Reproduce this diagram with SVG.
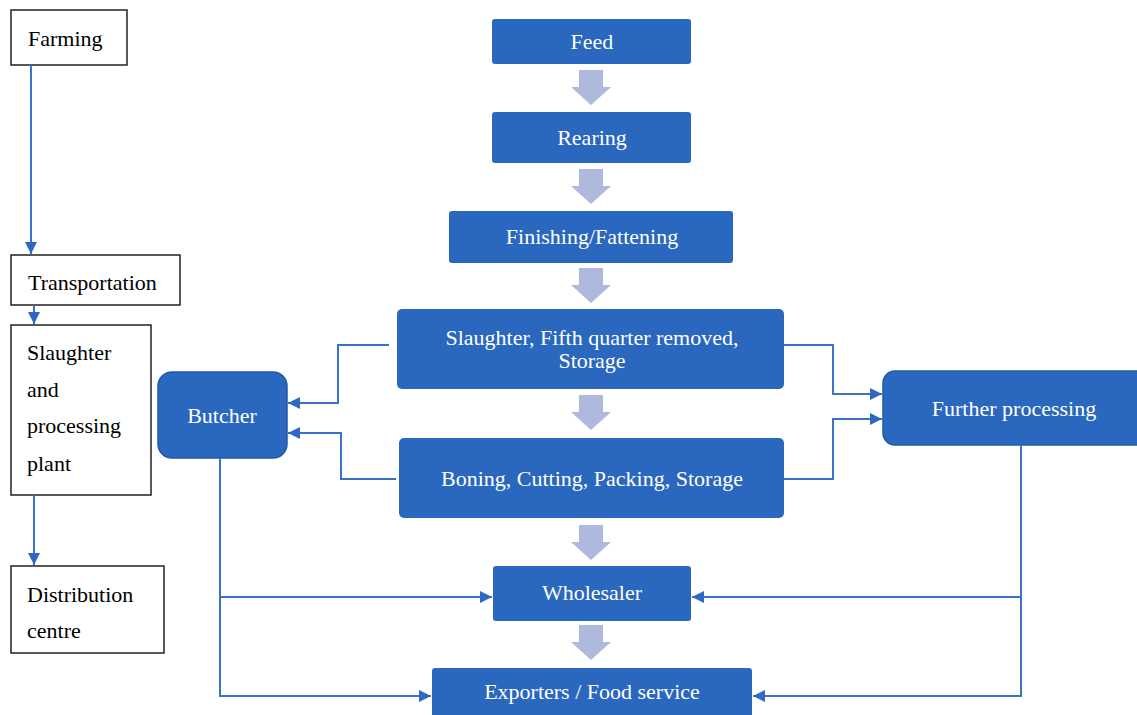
<svg xmlns="http://www.w3.org/2000/svg" width="1137" height="715" viewBox="0 0 1137 715">
<defs>
<style>
.wbox{fill:#ffffff;stroke:#222222;stroke-width:1.5}
.bbox{fill:#2A67BE}
.rbox{fill:#2A67BE;stroke:#1F5AAE;stroke-width:1.5}
.blk{font-family:"Liberation Serif","Times New Roman",serif;font-size:22px;fill:#000000}
.wht{font-family:"Liberation Serif","Times New Roman",serif;font-size:22px;fill:#ffffff;text-anchor:middle}
.con{fill:none;stroke:#3A72C8;stroke-width:2}
.big{fill:#AFB9DE}
</style>
<marker id="ah" viewBox="0 0 10 10" refX="10" refY="5" markerWidth="6" markerHeight="6" markerUnits="strokeWidth" orient="auto">
<path d="M0,0 L10,5 L0,10 Z" fill="#2E68C2"/>
</marker>
<path id="bigarrow" d="M-12,0 H12 V17 H20 L0,35 L-20,17 H-12 Z"/>
</defs>

<g id="farming"><rect class="wbox" x="11" y="10" width="116" height="55"/><text class="blk" x="28" y="46">Farming</text></g>
<g id="transportation"><rect class="wbox" x="11" y="255" width="169" height="50"/><text class="blk" x="28" y="290">Transportation</text></g>
<g id="slaughter-plant"><rect class="wbox" x="11" y="325" width="140" height="170"/>
<text class="blk" x="27" y="360">Slaughter</text><text class="blk" x="27" y="397">and</text><text class="blk" x="27" y="433">processing</text><text class="blk" x="27" y="471">plant</text></g>
<g id="distribution"><rect class="wbox" x="11" y="566" width="153" height="87"/>
<text class="blk" x="27" y="602">Distribution</text><text class="blk" x="27" y="638">centre</text></g>

<g id="feed"><rect class="bbox" x="492" y="19" width="199" height="45" rx="3"/><text class="wht" x="592" y="49">Feed</text></g>
<g id="rearing"><rect class="bbox" x="492" y="112" width="199" height="51" rx="3"/><text class="wht" x="592" y="145">Rearing</text></g>
<g id="finishing"><rect class="bbox" x="449" y="211" width="284" height="52" rx="3"/><text class="wht" x="592" y="244">Finishing/Fattening</text></g>
<g id="slaughter"><rect class="bbox" x="397" y="309" width="387" height="80" rx="5"/><text class="wht" x="592" y="345">Slaughter, Fifth quarter removed,</text><text class="wht" x="592" y="368">Storage</text></g>
<g id="boning"><rect class="bbox" x="399" y="438" width="385" height="80" rx="5"/><text class="wht" x="592" y="486">Boning, Cutting, Packing, Storage</text></g>
<g id="wholesaler"><rect class="bbox" x="493" y="566" width="198" height="55" rx="3"/><text class="wht" x="592" y="600">Wholesaler</text></g>
<g id="exporters"><rect class="bbox" x="432" y="668" width="320" height="60" rx="3"/><text class="wht" x="592" y="699">Exporters / Food service</text></g>
<g id="butcher"><rect class="rbox" x="158" y="372" width="129" height="86" rx="14"/><text class="wht" x="222" y="423">Butcher</text></g>
<g id="further"><rect class="rbox" x="883" y="371" width="270" height="74" rx="12"/><text class="wht" x="1014" y="416">Further processing</text></g>

<g id="flow-arrows" class="big">
<use href="#bigarrow" x="591" y="70"/>
<use href="#bigarrow" x="591" y="169"/>
<use href="#bigarrow" x="591" y="268"/>
<use href="#bigarrow" x="591" y="395"/>
<use href="#bigarrow" x="591" y="525"/>
<use href="#bigarrow" x="591" y="625"/>
</g>

<g id="connectors">
<path class="con" d="M31,65 V254" marker-end="url(#ah)"/>
<path class="con" d="M34,305 V324" marker-end="url(#ah)"/>
<path class="con" d="M34,495 V565" marker-end="url(#ah)"/>
<path class="con" d="M389,345 H338 V403 H288" marker-end="url(#ah)"/>
<path class="con" d="M396,479 H341 V433 H288" marker-end="url(#ah)"/>
<path class="con" d="M784,345 H833 V394 H882" marker-end="url(#ah)"/>
<path class="con" d="M784,479 H833 V419 H882" marker-end="url(#ah)"/>
<path class="con" d="M220,458 V696 H431" marker-end="url(#ah)"/>
<path class="con" d="M220,597 H492" marker-end="url(#ah)"/>
<path class="con" d="M1021,445 V696 H753" marker-end="url(#ah)"/>
<path class="con" d="M1021,597 H692" marker-end="url(#ah)"/>
</g>
</svg>
